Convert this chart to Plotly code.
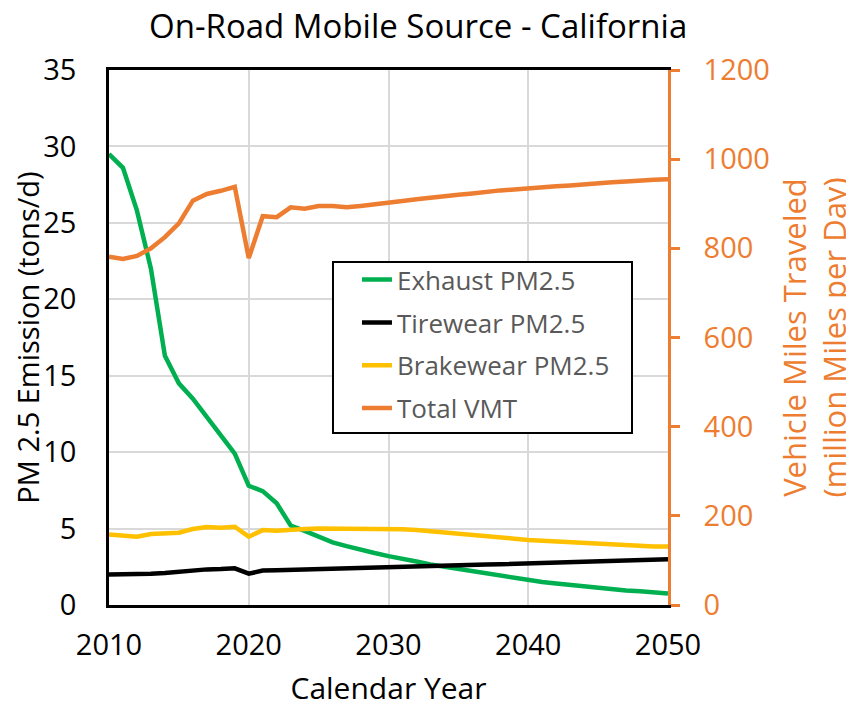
import plotly.graph_objects as go

years = list(range(2010, 2051))

exhaust = [29.5, 28.6, 25.8, 22.0, 16.3, 14.5, 13.5, 12.3, 11.1, 9.9,
           7.8, 7.45, 6.65, 5.2, 4.85, 4.5, 4.1, 3.85, 3.6, 3.4,
           3.2, 3.05, 2.85, 2.65, 2.5, 2.35, 2.2, 2.05, 1.9, 1.75,
           1.6, 1.5, 1.4, 1.3, 1.2, 1.1, 1.0, 0.95, 0.9, 0.85, 0.75]

tirewear = [2.0, 2.0, 2.0, 2.05, 2.1, 2.18, 2.3, 2.33, 2.35, 2.4,
            2.05, 2.25, 2.27, 2.3, 2.32, 2.35, 2.37, 2.4, 2.42, 2.44,
            2.46, 2.48, 2.5, 2.53, 2.56, 2.59, 2.62, 2.65, 2.67, 2.7,
            2.72, 2.75, 2.78, 2.81, 2.84, 2.87, 2.9, 2.93, 2.96, 2.98, 3.0]

brakewear = [4.62, 4.55, 4.47, 4.64, 4.65, 4.73, 4.97, 5.1, 5.06, 5.12,
             4.47, 4.9, 4.86, 4.95, 4.98, 5.0, 5.0, 5.0, 5.0, 5.0,
             4.97, 4.95, 4.9, 4.83, 4.76, 4.69, 4.6, 4.52, 4.43, 4.34,
             4.25, 4.2, 4.15, 4.09, 4.03, 3.97, 3.92, 3.86, 3.84, 3.83, 3.82]

vmt = [781, 776, 783, 800, 825, 856, 907, 922, 929, 938,
       778, 872, 870, 892, 889, 895, 895, 892, 895, 898,
       902, 906, 910, 914, 917, 920, 923, 927, 930, 932,
       935, 937, 939, 941, 944, 946, 948, 950, 953, 954, 955]

x_ticks = [2010, 2020, 2030, 2040, 2050]
y_ticks = [0, 5, 10, 15, 20, 25, 30, 35]
y2_ticks = [0, 200, 400, 600, 800, 1000, 1200]

GREEN = "#00B050"
BLACK = "#000000"
YELLOW = "#FFC000"
ORANGE = "#ED7D31"
FONT = "Open Sans"

fig = go.Figure()
series = [
    ("Exhaust PM2.5", exhaust, GREEN, "y"),
    ("Tirewear PM2.5", tirewear, BLACK, "y"),
    ("Brakewear PM2.5", brakewear, YELLOW, "y"),
    ("Total VMT", vmt, ORANGE, "y2"),
]
for i, (name, vals, col, ax) in enumerate(series):
    fig.add_trace(go.Scatter(x=years, y=vals, name=name, mode="lines",
                             line=dict(color=col, width=4.5), yaxis=ax,
                             legendgroup=str(i)))

# legend frame (white box with black border, above gridlines and lines)
fig.add_shape(type="rect", xref="paper", yref="paper",
              x0=0.4007, x1=0.9356, y0=0.3215, y1=0.6411,
              fillcolor="white", line=dict(color="black", width=2), layer="above")

# chart title
fig.add_annotation(text="On-Road Mobile Source - California", xref="paper", yref="paper",
                   x=0.5528, y=1.0841, xanchor="center", yanchor="middle",
                   showarrow=False, font=dict(size=33, color="#000000", family=FONT))

fig.update_layout(
    width=854, height=707,
    margin=dict(l=101, r=194, t=62, b=110, autoexpand=False),
    paper_bgcolor="white", plot_bgcolor="white",
    font=dict(family=FONT, color="#000000"),
    xaxis=dict(range=[2010, 2050], tickvals=x_ticks, showgrid=True, automargin=False,
               gridcolor="#D9D9D9", gridwidth=1.5, showline=True, linecolor="black",
               linewidth=2.5, mirror=True, ticks="", zeroline=False, ticklabelstandoff=12,
               tickfont=dict(size=29), title=dict(text="Calendar Year", font=dict(size=30), standoff=17)),
    yaxis=dict(range=[0, 35], tickvals=y_ticks, showgrid=True, gridcolor="#D9D9D9",
               gridwidth=1.5, showline=True, linecolor="black", linewidth=2.5, automargin=False,
               ticks="", zeroline=False, tickfont=dict(size=29), ticklabelstandoff=24,
               title=dict(text="PM 2.5 Emission (tons/d)", font=dict(size=29), standoff=12)),
    yaxis2=dict(range=[0, 1200], tickvals=y2_ticks, overlaying="y", side="right",
                showgrid=False, showline=True, linecolor=ORANGE, linewidth=2.5, automargin=False,
                ticks="outside", ticklen=9, tickwidth=2.5, tickcolor=ORANGE, ticklabelstandoff=18,
                zeroline=False, tickfont=dict(size=29, color=ORANGE),
                title=dict(text="Vehicle Miles Traveled<br>(million Miles per Day)",
                           font=dict(size=31, color=ORANGE), standoff=16)),
    legend=dict(x=0.4436, y=0.652, xanchor="left", yanchor="top",
                bgcolor="rgba(0,0,0,0)", borderwidth=0,
                font=dict(size=26, color="#595959"), tracegroupgap=6,
                traceorder="grouped"),
    showlegend=True,
)

fig.write_html("out.html")
